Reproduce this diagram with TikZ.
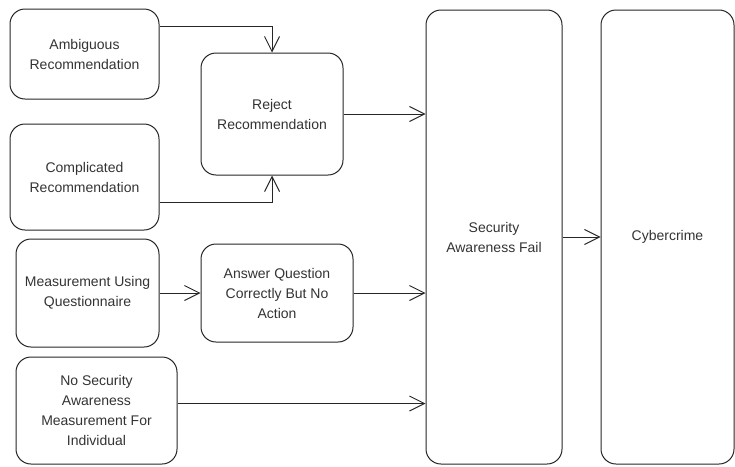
\documentclass[tikz,border=0pt]{standalone}
\usepackage{fontspec}
\setmainfont{Liberation Sans}
\usepackage{tikz}
\usetikzlibrary{calc,arrows.meta,positioning}

\begin{document}
\begin{tikzpicture}[
    x=1pt,y=-1pt,
    box/.style={draw=black!85,line width=1pt,rounded corners=15pt,
                minimum width=#1,align=center,text=black!80,
                font=\fontsize{14}{20}\selectfont},
    arr/.style={-{Straight Barb[length=15pt,width=15pt]},line width=1pt,
                draw=black!85},
]
\useasboundingbox (0,0) rectangle (735,466);

% Causes (left column)
\node[box=149pt,minimum height=90pt]  (amb)   at (84.5,54)  {Ambiguous\\Recommendation};
\node[box=149pt,minimum height=106pt] (comp)  at (84.5,177) {Complicated\\Recommendation};
\node[box=143pt,minimum height=108pt] (meas)  at (87.5,293) {Measurement Using\\Questionnaire};
\node[box=161pt,minimum height=107pt] (nosec) at (96.5,410.5)
  {No Security\\Awareness\\Measurement For\\Individual};

% Intermediate effects
\node[box=142pt,minimum height=122pt] (reject) at (272,114) {Reject\\Recommendation};
\node[box=152pt,minimum height=98pt]  (answer) at (277,293)
  {Answer Question\\Correctly But No\\Action};

% Outcome columns
\node[box=136pt,minimum height=454pt] (fail)  at (494,237)   {Security\\Awareness Fail};
\node[box=133pt,minimum height=454pt] (cyber) at (667.5,237) {Cybercrime};

\draw[arr] ([yshift=28pt]amb.east) -| (reject.north);
\draw[arr] ([yshift=-25pt]comp.east) -| (reject.south);
\draw[arr] (reject.east) -- (reject.east -| fail.west);

\draw[arr] (meas.east) -- (meas.east -| answer.west);
\draw[arr] (answer.east) -- (answer.east -| fail.west);

\draw[arr] ([yshift=7pt]nosec.east) -- ([yshift=7pt]nosec.east -| fail.west);

\draw[arr] (fail.east) -- (cyber.west);

\end{tikzpicture}
\end{document}
